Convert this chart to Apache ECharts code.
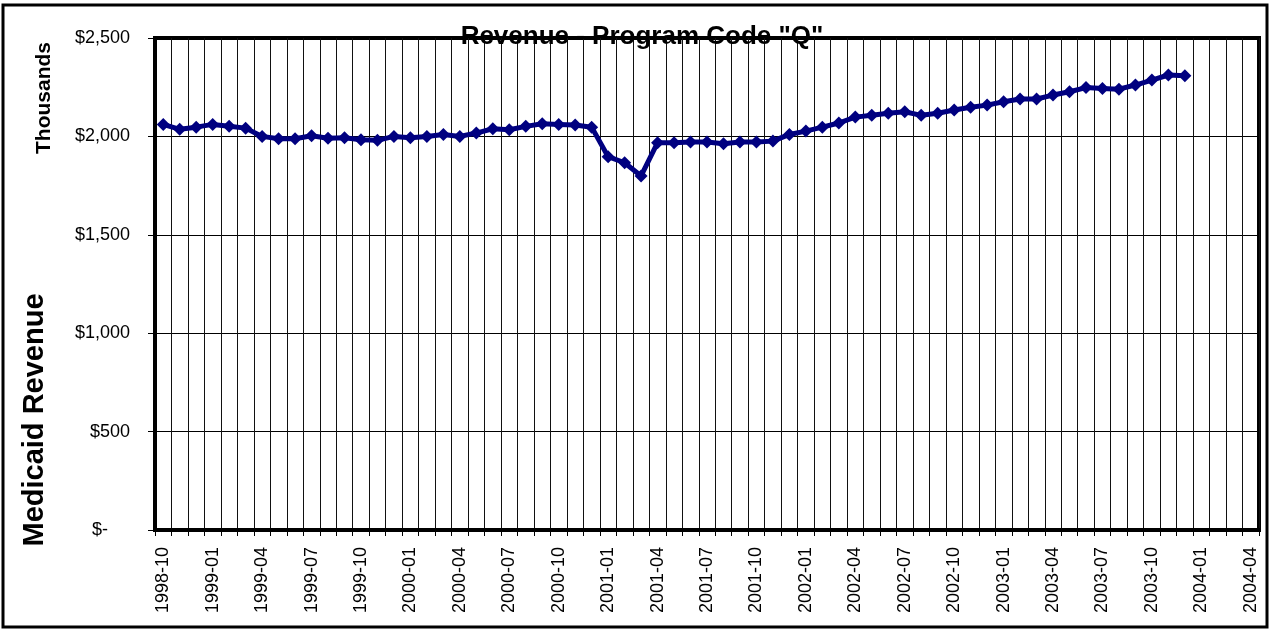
<!DOCTYPE html>
<html>
<head>
<meta charset="utf-8">
<title>Revenue - Program Code "Q"</title>
<script src="https://cdn.jsdelivr.net/npm/echarts@6/dist/echarts.min.js"></script>
<style>
  html, body { margin: 0; padding: 0; background: #fff; }
  #chart { width: 1277px; height: 630px; }
</style>
</head>
<body>
<div id="chart"></div>
<script>
  const months = [
    "1998-10", "1998-11", "1998-12",
    "1999-01", "1999-02", "1999-03", "1999-04", "1999-05", "1999-06",
    "1999-07", "1999-08", "1999-09", "1999-10", "1999-11", "1999-12",
    "2000-01", "2000-02", "2000-03", "2000-04", "2000-05", "2000-06",
    "2000-07", "2000-08", "2000-09", "2000-10", "2000-11", "2000-12",
    "2001-01", "2001-02", "2001-03", "2001-04", "2001-05", "2001-06",
    "2001-07", "2001-08", "2001-09", "2001-10", "2001-11", "2001-12",
    "2002-01", "2002-02", "2002-03", "2002-04", "2002-05", "2002-06",
    "2002-07", "2002-08", "2002-09", "2002-10", "2002-11", "2002-12",
    "2003-01", "2003-02", "2003-03", "2003-04", "2003-05", "2003-06",
    "2003-07", "2003-08", "2003-09", "2003-10", "2003-11", "2003-12",
    "2004-01", "2004-02", "2004-03", "2004-04"
  ];

  // monthly Medicaid revenue, thousands of dollars (1998-10 .. 2003-12)
  const revenue = [
    2061, 2036, 2047, 2061, 2052, 2042, 2000, 1988, 1988, 2003,
    1991, 1993, 1983, 1980, 2000, 1993, 2000, 2010, 2000, 2017,
    2039, 2034, 2051, 2064, 2061, 2058, 2047, 1897, 1866, 1799,
    1968, 1968, 1971, 1971, 1963, 1971, 1971, 1976, 2010, 2027,
    2047, 2068, 2098, 2107, 2118, 2125, 2107, 2118, 2134, 2148,
    2159, 2176, 2190, 2190, 2210, 2227, 2248, 2244, 2240, 2261,
    2286, 2312, 2308
  ];

  const yTicks = [0, 500, 1000, 1500, 2000, 2500];

  const FONT = "'Liberation Sans', Arial, sans-serif";

  function formatDollar(value) {
    if (value === 0) return "{z|$-}";
    return "$" + Number(value).toLocaleString("en-US");
  }

  const chart = echarts.init(document.getElementById("chart"));

  chart.setOption({
    animation: false,
    backgroundColor: "#fff",
    grid: {
      left: 155, right: 18, top: 38, bottom: 100,
      show: true,
      borderColor: "#000",
      borderWidth: 4
    },
    xAxis: {
      type: "category",
      data: months,
      boundaryGap: true,
      axisLine: { show: true, lineStyle: { color: "#000", width: 4 } },
      axisTick: { show: true, interval: 0, length: 6, lineStyle: { color: "#000", width: 1 } },
      splitLine: { show: true, interval: 0, lineStyle: { color: "#111", width: 1 } },
      axisLabel: {
        interval: 2,
        rotate: 90,
        margin: 17,
        color: "#000",
        fontFamily: FONT,
        fontSize: 18
      }
    },
    yAxis: {
      type: "value",
      min: yTicks[0],
      max: yTicks[yTicks.length - 1],
      interval: 500,
      axisLine: { show: true, lineStyle: { color: "#000", width: 4 } },
      axisTick: { show: true, length: 7, lineStyle: { color: "#000", width: 1 } },
      splitLine: { show: true, lineStyle: { color: "#000", width: 1 } },
      axisLabel: {
        margin: 25,
        color: "#000",
        fontFamily: FONT,
        fontSize: 18,
        formatter: formatDollar,
        rich: {
          z: { fontFamily: FONT, fontSize: 18, color: "#000", padding: [0, 22, 0, 0] }
        }
      }
    },
    series: [{
      name: "Medicaid Revenue",
      type: "line",
      data: revenue,
      symbol: "diamond",
      symbolSize: 13,
      showAllSymbol: true,
      itemStyle: { color: "#000080" },
      lineStyle: { color: "#000080", width: 5 },
      z: 5
    }],
    graphic: [
      {
        type: "rect",
        silent: true,
        shape: { x: 3, y: 5, width: 1264, height: 622 },
        style: { fill: "none", stroke: "#000", lineWidth: 3 }
      },
      {
        type: "text",
        x: 642, y: 37,
        z: 10,
        style: {
          text: 'Revenue - Program Code "Q"',
          font: "bold 26px " + FONT,
          fill: "#000",
          align: "center",
          verticalAlign: "middle"
        }
      },
      {
        type: "text",
        x: 44, y: 98,
        rotation: Math.PI / 2,
        style: {
          text: "Thousands",
          font: "bold 21px " + FONT,
          fill: "#000",
          align: "center",
          verticalAlign: "middle"
        }
      },
      {
        type: "text",
        x: 35, y: 420,
        rotation: Math.PI / 2,
        style: {
          text: "Medicaid Revenue",
          font: "bold 29px " + FONT,
          fill: "#000",
          align: "center",
          verticalAlign: "middle"
        }
      }
    ]
  });
</script>
</body>
</html>
